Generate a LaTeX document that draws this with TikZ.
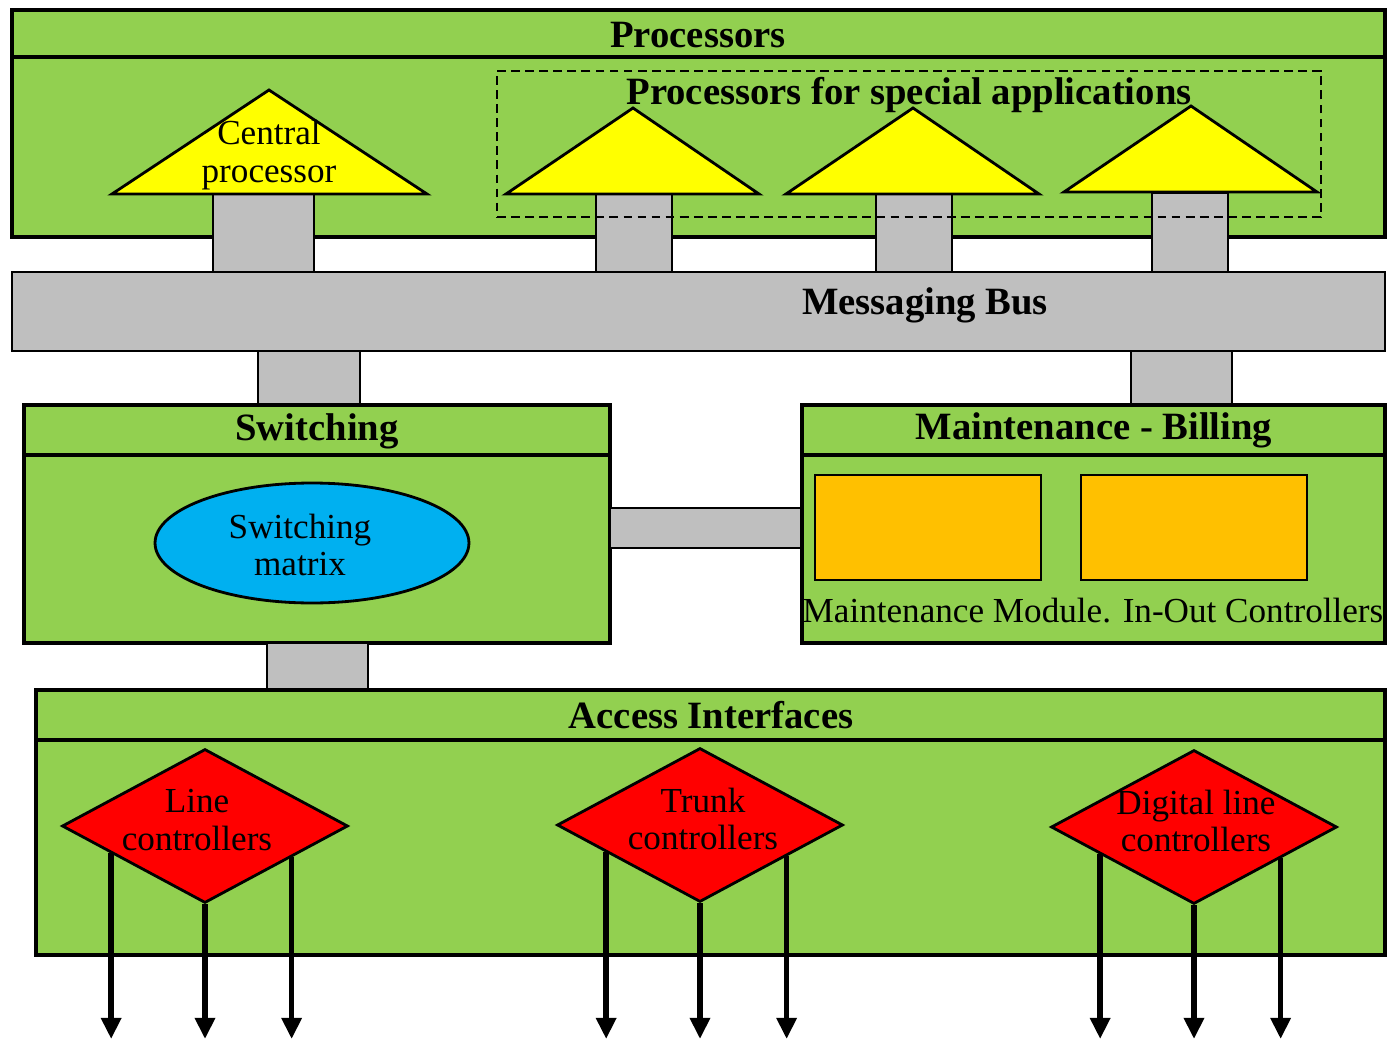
\documentclass[tikz,border=0pt]{standalone}
\usepackage{fontspec}
\setmainfont{Liberation Serif}
\usetikzlibrary{arrows.meta, positioning, calc, shapes.geometric, fit}
\definecolor{boxgreen}{HTML}{92D050}
\definecolor{busgray}{HTML}{BFBFBF}
\definecolor{cpuyellow}{HTML}{FFFF00}
\definecolor{matrixblue}{HTML}{00B0F0}
\definecolor{modorange}{HTML}{FFC000}
\definecolor{ctrlred}{HTML}{FF0000}

\begin{document}
\begin{tikzpicture}[
  x=0.02cm, y=-0.02cm,
  every node/.style={font=\fontsize{20}{21.5}\selectfont},
  block/.style={draw, line width=1.8pt, fill=boxgreen, inner sep=0pt},
  link/.style={draw, line width=1.3pt, fill=busgray, inner sep=0pt},
  head/.style={font=\fontsize{22}{26}\selectfont\bfseries},
  cpu/.style={draw, line width=1.6pt, fill=cpuyellow},
  module/.style={draw, line width=1.6pt, fill=modorange, inner sep=0pt},
  ctrl/.style={diamond, draw, line width=1.6pt, fill=ctrlred, minimum width=5.72cm, minimum height=3.08cm, inner sep=0pt},
  feed/.style={line width=3.2pt, -{Triangle[width=11pt,length=12pt]}},
  divider/.style={line width=1.8pt}
]
  \useasboundingbox (0,0) rectangle (1387,1041);

  \node[block, fit={(12,10) (1385,237)}] (proc) {};
  \draw[divider] (proc.west |- 0,57) -- (proc.east |- 0,57);
  \node[head] (proc-t) at (698,35) {Processors};

  \node[link, fit={(213,194) (314,272)}] (stem-c) {};
  \foreach \x/\n in {634/1, 914/2, 1190/3}
    \node[link, fit={(\x-38,193) (\x+38,272)}] (stem-\n) {};

  \draw[cpu] (112,194) -- (269,90) -- (427,194) -- cycle;
  \node[align=center] (cpu-t) at (269,155) {Central\\processor};
  \foreach \x/\y in {633/194, 913/194, 1191/192}
    \draw[cpu] (\x-127,\y) -- (\x,\y-86) -- (\x+126,\y) -- cycle;

  \node[draw, dash pattern=on 5pt off 3pt, line width=1.4pt, inner sep=0pt, fit={(497,71) (1321,217)}] (spec) {};
  \node[head] (spec-t) at (909,95) {Processors for special applications};

  \node[link, line width=1.1pt, fit={(12,272) (1385,351)}] (bus) {};
  \node[head] (bus-t) at (925,305) {Messaging Bus};

  \node[link, fit={(258,351) (360,405)}] (stem-sw) {};
  \node[link, fit={(1131,351) (1232,405)}] (stem-mb) {};

  \node[block, fit={(24,405) (610,643)}] (sw) {};
  \draw[divider] (sw.west |- 0,455) -- (sw.east |- 0,455);
  \node[head] (sw-t) at (317,431) {Switching};
  \node[ellipse, draw, line width=1.6pt, fill=matrixblue, minimum width=6.28cm, minimum height=2.4cm] (mat) at (312,543) {};
  \node[align=center] (mat-t) at (300,545) {Switching\\matrix};

  \node[link, fit={(610,508) (802,548)}] (stem-h) {};

  \node[block, fit={(802,405) (1385,643)}] (mb) {};
  \draw[divider] (mb.west |- 0,455) -- (mb.east |- 0,455);
  \node[head] (mb-t) at (1094,430) {Maintenance - Billing};
  \node[module, fit={(815,475) (1041,580)}] (maint) {};
  \node[module, fit={(1081,475) (1307,580)}] (inout) {};
  \node (mb-l) at (1093,611) {Maintenance Module. In-Out Controllers};

  \node[link, fit={(267,643) (368,690)}] (stem-acc) {};

  \node[block, fit={(36,690) (1385,955)}] (acc) {};
  \draw[divider] (acc.west |- 0,740) -- (acc.east |- 0,740);
  \node[head] (acc-t) at (711,715) {Access Interfaces};

  \coordinate (bot) at (0,1039);
  \foreach \n/\x/\y/\dx/\txt in {line/205/826/-8/{Line\\controllers}, trunk/700/825/3/{Trunk\\controllers}, dig/1194/827/2/{Digital line\\controllers}} {
    \node[ctrl] (\n) at (\x,\y) {};
    \node[align=center] (\n-t) at (\x+\dx,\y-6) {\txt};
    \draw[feed] ($(\n.west)!0.35!(\n.south)$) coordinate (a) -- (a |- bot);
    \draw[feed] (\n.south) -- (\n.south |- bot);
    \draw[feed] ($(\n.east)!0.4!(\n.south)$) coordinate (b) -- (b |- bot);
  }
\end{tikzpicture}
\end{document}
